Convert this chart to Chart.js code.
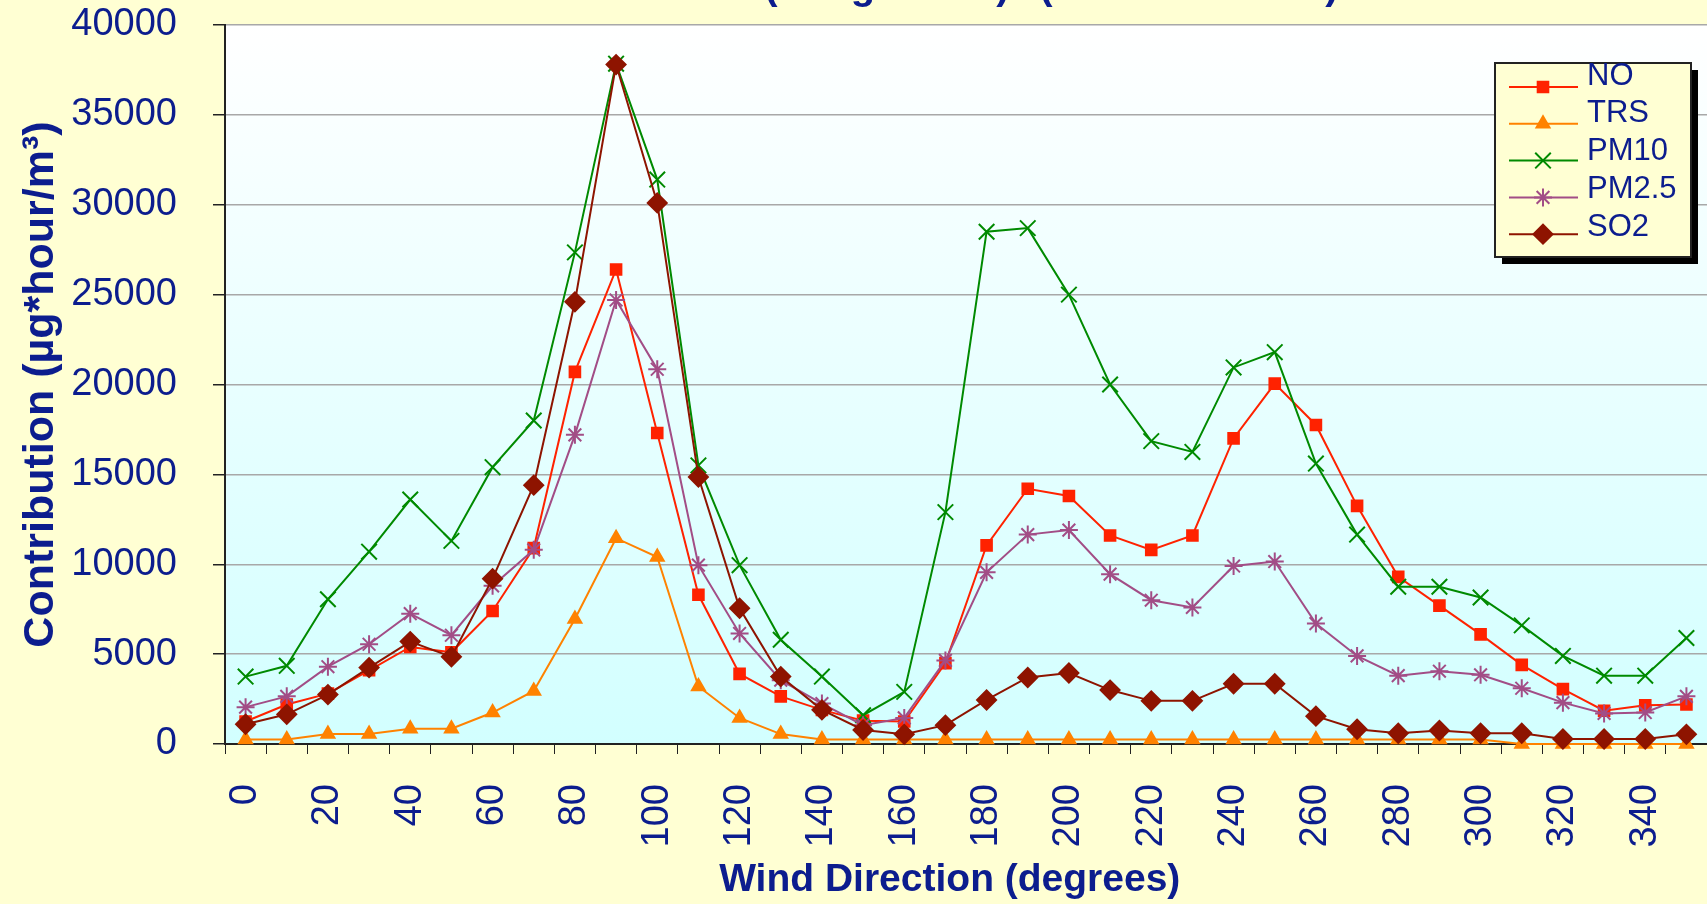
<!DOCTYPE html>
<html>
<head>
<meta charset="utf-8">
<script src="https://cdn.jsdelivr.net/npm/chart.js@4.4.1/dist/chart.umd.min.js"></script>
<style>
  html, body { margin: 0; padding: 0; background: #ffffd3; overflow: hidden; }
  canvas { display: block; }
</style>
</head>
<body>
<canvas id="windChart" width="1720" height="904"></canvas>
<script>
const directions = [0, 10, 20, 30, 40, 50, 60, 70, 80, 90, 100, 110, 120, 130, 140, 150, 160, 170,
  180, 190, 200, 210, 220, 230, 240, 250, 260, 270, 280, 290, 300, 310, 320, 330, 340, 350]

const noValues = [1250, 2200, 2800, 4100, 5400, 5100, 7400, 10900, 20700, 26400, 17300, 8300, 3900, 2650, 1900, 1300, 1250, 4500,
  11050, 14200, 13800, 11600, 10800, 11600, 17000, 20050, 17750, 13250, 9300, 7700, 6100, 4400, 3050, 1850, 2150, 2200]
const trsValues = [250, 250, 550, 550, 850, 850, 1750, 2950, 6950, 11450, 10400, 3200, 1450, 550, 250, 250, 250, 250,
  250, 250, 250, 250, 250, 250, 250, 250, 250, 250, 250, 250, 250, 0, 0, 0, 0, 0]
const pm10Values = [3750, 4350, 8050, 10700, 13600, 11300, 15400, 18000, 27350, 37850, 31400, 15500, 9950, 5800, 3750, 1600, 2900, 12900,
  28500, 28700, 25000, 20000, 16850, 16250, 20950, 21800, 15600, 11650, 8750, 8750, 8150, 6600, 4900, 3800, 3800, 5900]
const pm25Values = [2050, 2650, 4300, 5550, 7250, 6050, 8800, 10800, 17200, 24700, 20850, 9950, 6150, 3550, 2250, 1050, 1450, 4650,
  9550, 11650, 11900, 9450, 8000, 7600, 9900, 10150, 6700, 4900, 3800, 4050, 3850, 3100, 2300, 1700, 1750, 2650]
const so2Values = [1100, 1650, 2750, 4250, 5700, 4850, 9200, 14400, 24600, 37800, 30100, 14850, 7550, 3750, 1900, 780, 540, 1050,
  2450, 3700, 3950, 3000, 2400, 2400, 3350, 3350, 1550, 820, 600, 750, 600, 600, 280, 280, 280, 540]

const navy = '#0c1d8e'
const fam = '"Liberation Sans", Arial, sans-serif'

const series = [
  { label: 'NO', data: noValues, color: '#ff2200', style: 'rect', radius: 7.5, order: 4 },
  { label: 'TRS', data: trsValues, color: '#ff8200', style: 'triangle', radius: 7.5, order: 3 },
  { label: 'PM10', data: pm10Values, color: '#008a00', style: 'crossRot', radius: 11, order: 2 },
  { label: 'PM2.5', data: pm25Values, color: '#a24d86', style: 'star', radius: 9, order: 1 },
  { label: 'SO2', data: so2Values, color: '#8e1400', style: 'rectRot', radius: 9.5, order: 0 },
]

const backdrop = {
  id: 'backdrop',
  beforeDraw(chart) {
    const { ctx, chartArea: a } = chart
    ctx.save()
    ctx.fillStyle = '#ffffd3'
    ctx.fillRect(0, 0, chart.width, chart.height)
    const g = ctx.createLinearGradient(0, a.top, 0, a.bottom)
    g.addColorStop(0, '#ffffff')
    g.addColorStop(1, '#d2ffff')
    ctx.fillStyle = g
    ctx.fillRect(a.left, a.top, a.right - a.left, a.bottom - a.top)
    ctx.restore()
  },
}

// title is cut off at the top edge, only the bottoms of a few glyphs show
const titleScraps = {
  id: 'titleScraps',
  afterDraw(chart) {
    const ctx = chart.ctx
    ctx.save()
    ctx.fillStyle = navy
    ctx.font = 'bold 40px ' + fam
    ctx.textAlign = 'center'
    ctx.textBaseline = 'alphabetic'
    ;[['(', 771], ['g', 863], [')', 1003], ['(', 1046], [')', 1332]].forEach(([t, x]) => ctx.fillText(t, x, -1))
    ctx.restore()
  },
}

const boxLegend = {
  id: 'boxLegend',
  afterDatasetsDraw(chart) {
    const ctx = chart.ctx
    const x = 1495, y = 63, w = 196, h = 194
    ctx.save()
    ctx.fillStyle = '#000'
    ctx.fillRect(x + 7, y + 7, w, h)
    ctx.fillStyle = '#ffffd3'
    ctx.fillRect(x, y, w, h)
    ctx.strokeStyle = '#222'
    ctx.lineWidth = 2
    ctx.strokeRect(x, y, w, h)
    series.forEach((s, i) => {
      const ly = 87 + i * 36.8
      ctx.strokeStyle = s.color
      ctx.lineWidth = 2
      ctx.beginPath()
      ctx.moveTo(1509, ly)
      ctx.lineTo(1578, ly)
      ctx.stroke()
      ctx.fillStyle = s.color
      if (Chart.helpers && Chart.helpers.drawPoint) {
        Chart.helpers.drawPoint(ctx, { pointStyle: s.style, radius: s.radius, rotation: 0, borderWidth: 2 }, 1543, ly)
      } else {
        ctx.fillRect(1538, ly - 5, 10, 10)
      }
      ctx.fillStyle = navy
      ctx.font = '31px ' + fam
      ctx.textAlign = 'left'
      ctx.textBaseline = 'middle'
      ctx.fillText(s.label, 1587, 76 + i * 37.9)
    })
    ctx.restore()
  },
}

new Chart(document.getElementById('windChart'), {
  type: 'line',
  data: {
    labels: directions,
    datasets: series.map((s) => ({
      label: s.label,
      data: s.data,
      order: s.order,
      borderColor: s.color,
      backgroundColor: s.color,
      borderWidth: 2,
      pointStyle: s.style,
      pointRadius: s.radius,
      pointBorderWidth: 2,
      pointBorderColor: s.color,
      pointBackgroundColor: s.color,
      tension: 0,
      fill: false,
      clip: false,
    })),
  },
  options: {
    responsive: false,
    animation: false,
    layout: { padding: { top: 25, right: 0, bottom: 0, left: 0 } },
    plugins: { legend: { display: false }, tooltip: { enabled: false } },
    scales: {
      x: {
        offset: true,
        grid: { drawOnChartArea: false, drawTicks: true, tickLength: 10, tickColor: '#222', offset: true },
        border: { display: true, color: '#222', width: 2 },
        ticks: {
          autoSkip: false,
          minRotation: 90,
          maxRotation: 90,
          padding: 30,
          color: navy,
          font: { family: fam, size: 38 },
          callback: (v, i) => (i % 2 === 0 ? String(directions[i]) : ''),
        },
        title: {
          display: true,
          // trailing spaces nudge the centred title left, as in the original
          text: 'Wind Direction (degrees)   ',
          color: navy,
          font: { family: fam, size: 39, weight: 'bold' },
          padding: { top: 0, bottom: 0 },
        },
        afterFit: (s) => {
          s.height = 160
          s.paddingLeft = 0
          s.paddingRight = 0
        },
      },
      y: {
        min: 0,
        max: 40000,
        grid: { color: '#a8a8a8', lineWidth: 1.5, tickColor: '#222', tickLength: 12 },
        border: { display: true, color: '#222', width: 2 },
        ticks: {
          stepSize: 5000,
          padding: 36,
          color: navy,
          font: { family: fam, size: 38 },
          callback: (v) => String(v),
        },
        title: {
          display: true,
          text: 'Contribution (µg*hour/m³)',
          color: navy,
          font: { family: fam, size: 43, weight: 'bold' },
          padding: { top: 15, bottom: 0 },
        },
        afterFit: (s) => {
          s.width = 225
          s.paddingTop = 0
          s.paddingBottom = 0
        },
      },
    },
  },
  plugins: [backdrop, boxLegend, titleScraps],
})
</script>
</body>
</html>
